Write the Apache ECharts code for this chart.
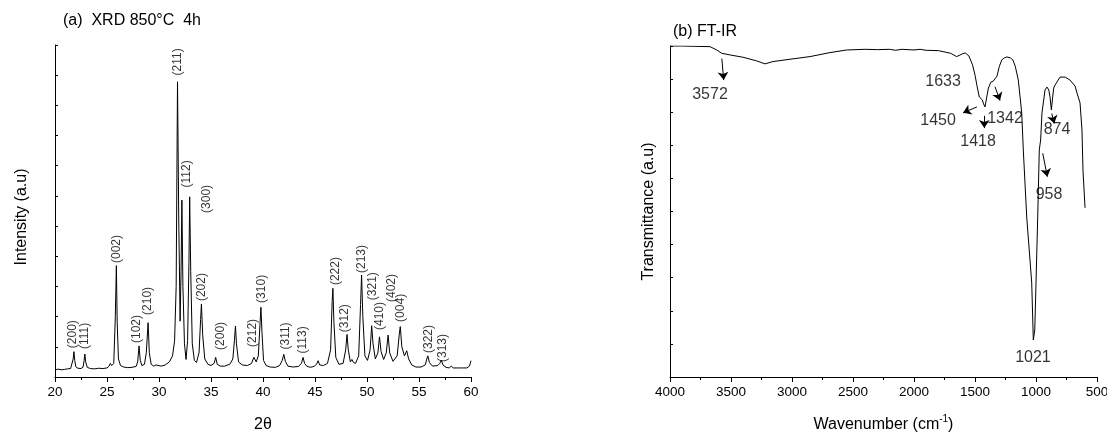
<!DOCTYPE html>
<html>
<head>
<meta charset="utf-8">
<script src="https://cdn.jsdelivr.net/npm/echarts@6/dist/echarts.min.js"></script>
<style>
html,body{margin:0;padding:0;background:#fff;}
#chart{width:1107px;height:432px;}
</style>
</head>
<body>
<div id="chart"></div>
<script>
// ---------- (a) XRD data ----------
const xrdTheta = [20.0,20.3,20.6,20.9,21.2,21.5,21.65,21.75,21.82,21.9,22.0,22.2,22.5,22.7,22.8,22.87,22.95,23.1,23.4,23.8,24.2,24.6,25.0,25.2,25.32,25.45,25.65,25.8,25.9,25.98,26.1,26.3,26.6,27.0,27.4,27.8,27.95,28.08,28.2,28.35,28.6,28.78,28.95,29.07,29.25,29.5,29.7,29.85,30.2,30.6,31.0,31.3,31.5,31.65,31.78,31.9,32.03,32.12,32.2,32.3,32.45,32.6,32.75,32.88,32.95,33.05,33.2,33.4,33.6,33.85,34.0,34.08,34.2,34.4,34.7,35.0,35.3,35.45,35.6,35.9,36.3,36.8,37.1,37.25,37.35,37.45,37.65,38.0,38.5,38.9,39.12,39.2,39.35,39.55,39.72,39.8,39.9,40.05,40.3,40.45,40.7,41.2,41.6,41.85,42.0,42.15,42.4,42.9,43.4,43.7,43.85,44.0,44.2,44.35,44.55,44.9,45.15,45.3,45.45,45.8,46.2,46.5,46.65,46.72,46.82,47.0,47.3,47.7,47.95,48.08,48.2,48.4,48.55,48.7,48.9,49.2,49.38,49.48,49.6,49.8,50.05,50.3,50.45,50.58,50.8,51.05,51.2,51.35,51.6,51.85,52.03,52.18,52.5,52.9,53.1,53.2,53.35,53.6,53.82,54.0,54.3,54.45,54.7,55.2,55.6,55.75,55.85,56.0,56.3,56.8,57.0,57.15,57.3,57.6,57.9,58.1,58.3,58.7,59.2,59.6,59.85,60.0];
const xrdIntensity = [24,26,24,25,27,28,33,60,84,55,34,29,28,33,55,76,50,32,28,27,29,28,30,36,45,38,45,200,369,180,60,38,33,31,32,35,50,103,55,38,42,80,180,80,42,36,40,35,36,40,50,70,120,300,978,520,185,350,586,300,110,58,120,380,597,350,110,55,48,80,190,242,140,60,42,38,45,65,42,36,36,42,60,120,169,110,50,40,38,45,65,70,50,70,180,231,150,55,38,40,33,32,38,55,75,52,36,33,35,45,65,45,36,40,32,35,42,54,40,38,45,90,250,294,180,65,42,45,90,141,90,50,58,48,45,70,240,338,200,70,55,90,170,110,60,80,133,85,58,80,139,80,52,70,140,167,100,70,87,60,40,36,33,33,40,60,70,48,36,38,45,56,40,32,30,36,30,30,30,30,36,54];
const xrdLabels = ['(200)','(111)','(002)','(102)','(210)','(211)','(112)','(300)','(202)','(200)','(212)','(310)','(311)','(113)','(222)','(312)','(213)','(321)','(410)','(402)','(004)','(322)','(313)'];
const xrdLabelTheta = [21.7,22.9,25.9,27.9,28.9,31.8,32.66,34.58,34.1,35.9,39.0,39.9,42.2,43.8,47.0,47.9,49.5,50.5,51.25,52.4,53.2,55.9,57.3];
const xrdLabelIntensity = [142,136,424,159,252,1044,673,590,298,136,146,292,136,123,351,195,391,301,202,295,229,126,96];

// ---------- (b) FT-IR data ----------
const irWavenumber = [4000,3900,3800,3672,3617,3576,3508,3401,3290,3221,3156,3016,2852,2689,2552,2400,2300,2200,2150,2100,2000,1950,1900,1800,1700,1650,1640,1600,1580,1550,1520,1500,1480,1465,1450,1440,1430,1418,1405,1390,1370,1350,1335,1320,1300,1280,1260,1238,1210,1190,1170,1145,1117,1104,1076,1035,1022,1018,1010,1000,986,973,962,951,926,910,895,885,874,865,855,844,830,803,760,721,680,664,639,623,615,598];
const irTransmittance = [100,100,99.9,99.8,98.8,97.8,97.3,96.6,95.5,94.6,95.3,96.0,96.8,98.0,98.8,99.0,98.9,99.0,98.7,99.0,98.8,99.0,98.7,98.6,97.8,96.8,96.7,97.7,97.9,97.0,94.3,91.2,87.3,84.6,84.3,83.7,82.5,81.6,84.3,87.3,89.1,89.4,89.7,90.9,93.9,95.8,96.4,96.7,96.4,95.8,93.9,89.7,79.8,68.6,48.3,28.4,11.2,10.6,14.2,28.4,48.3,68.6,71.6,79.8,86.7,87.6,86.7,84.6,80.7,84.0,87.3,88.2,88.5,90.6,90.6,89.7,87.9,85.8,82.8,74.6,62.5,51.1];
const irLabels = ['3572','1633','1450','1418','1342','874','958','1021'];
const irLabelWn = [3672,1762,1803,1475,1254,828,893,1025];
const irLabelT = [85.2,89.1,77.6,71.0,78.2,74.6,55.0,6.0];
const irArrowFrom = [[3575,96.2],[1484,81.6],[1424,78.9],[1336,87.7],[871,79.6],[945,67.6]];
const irArrowTo = [[3560,89.7],[1598,79.8],[1424,75.2],[1295,83.5],[850,76.6],[907,60.5]];

const FONT = 'Liberation Sans, Arial, Helvetica, sans-serif';
const black = '#000';

function zip(a, b) { return a.map((v, i) => [v, b[i]]); }

const chart = echarts.init(document.getElementById('chart'), null, {renderer: 'canvas'});

const axisX = (extra) => Object.assign({
  type: 'value',
  nameLocation: 'middle',
  nameTextStyle: {fontSize: 16, color: black, fontFamily: FONT},
  axisLine: {show: true, onZero: false, lineStyle: {color: black, width: 1}},
  axisTick: {show: true, inside: false, length: 5, lineStyle: {color: black}},
  minorTick: {show: true, splitNumber: 2, length: 3, lineStyle: {color: black}},
  axisLabel: {fontSize: 13.5, color: black, fontFamily: FONT, margin: 8, formatter: (v) => String(v)},
  splitLine: {show: false},
  minorSplitLine: {show: false}
}, extra);

const axisY = (extra) => Object.assign({
  type: 'value',
  nameLocation: 'middle',
  nameTextStyle: {fontSize: 16, color: black, fontFamily: FONT},
  axisLine: {show: true, onZero: false, lineStyle: {color: black, width: 1}},
  axisTick: {show: true, inside: true, length: 3, lineStyle: {color: black}},
  axisLabel: {show: false},
  splitLine: {show: false}
}, extra);

const option = {
  animation: false,
  backgroundColor: '#fff',
  textStyle: {fontFamily: FONT},
  title: [
    {text: '(a)  XRD 850°C  4h', left: 63, top: 13, padding: 0,
     textStyle: {fontSize: 16, fontWeight: 'normal', color: black, fontFamily: FONT}},
    {text: '(b) FT-IR', left: 673, top: 24, padding: 0,
     textStyle: {fontSize: 16, fontWeight: 'normal', color: black, fontFamily: FONT}}
  ],
  grid: [
    {left: 55, top: 45, width: 416, height: 332, containLabel: false, outerBoundsMode: 'none'},
    {left: 670, top: 46, width: 427, height: 331, containLabel: false, outerBoundsMode: 'none'}
  ],
  xAxis: [
    axisX({gridIndex: 0, min: 20, max: 60, interval: 5, name: '2θ', nameGap: 40}),
    axisX({gridIndex: 1, min: 500, max: 4000, interval: 500, inverse: true,
      name: 'Wavenumber (cm{sup|-1})', nameGap: 37,
      nameTextStyle: {fontSize: 16, color: black, fontFamily: FONT, lineHeight: 22,
        rich: {sup: {fontSize: 10, color: black, fontFamily: FONT, verticalAlign: 'top', lineHeight: 10}}}})
  ],
  yAxis: [
    axisY({gridIndex: 0, min: 0, max: 1100, interval: 100, name: 'Intensity (a.u)', nameGap: 25,
      nameTextStyle: {fontSize: 16, color: black, fontFamily: FONT, padding: [0, 12, 0, 0]}}),
    axisY({gridIndex: 1, min: 0, max: 100, interval: 10, name: 'Transmittance (a.u)', nameGap: 13})
  ],
  series: [
    {
      type: 'line', xAxisIndex: 0, yAxisIndex: 0,
      data: zip(xrdTheta, xrdIntensity),
      showSymbol: false, symbol: 'none', smooth: false,
      lineStyle: {color: black, width: 1}, silent: true
    },
    {
      type: 'scatter', xAxisIndex: 0, yAxisIndex: 0,
      data: xrdLabels.map((t, i) => ({name: t, value: [xrdLabelTheta[i], xrdLabelIntensity[i]]})),
      symbolSize: 1, itemStyle: {color: 'rgba(0,0,0,0)'}, silent: true,
      label: {show: true, position: 'inside', rotate: 90, formatter: '{b}',
        fontSize: 12, color: black, fontFamily: FONT}
    },
    {
      type: 'line', xAxisIndex: 1, yAxisIndex: 1,
      data: zip(irWavenumber, irTransmittance),
      showSymbol: false, symbol: 'none', smooth: false,
      lineStyle: {color: black, width: 1}, silent: true,
      markLine: {
        silent: true, symbol: ['none', 'arrow'], symbolSize: 8,
        label: {show: false},
        lineStyle: {color: black, width: 1, type: 'solid'},
        emphasis: {disabled: true},
        data: irArrowFrom.map((f, i) => [{coord: f}, {coord: irArrowTo[i]}])
      }
    },
    {
      type: 'scatter', xAxisIndex: 1, yAxisIndex: 1,
      data: irLabels.map((t, i) => ({name: t, value: [irLabelWn[i], irLabelT[i]]})),
      symbolSize: 1, itemStyle: {color: 'rgba(0,0,0,0)'}, silent: true,
      label: {show: true, position: 'inside', formatter: '{b}',
        fontSize: 16, color: black, fontFamily: FONT}
    }
  ]
};
chart.setOption(option);
</script>
</body>
</html>
